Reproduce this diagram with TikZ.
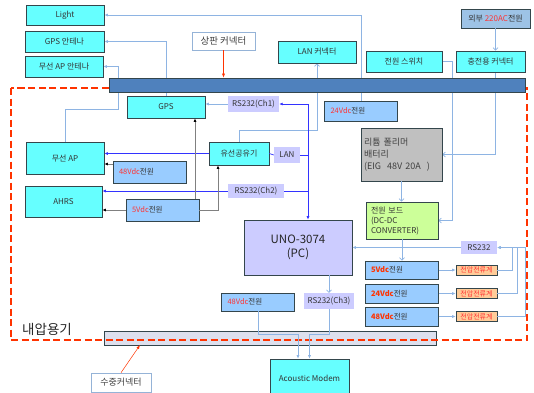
\documentclass[tikz,border=0pt]{standalone}
\usepackage{fontspec}
\setmainfont{Noto Sans CJK KR}
\usetikzlibrary{arrows.meta, calc, backgrounds}
\definecolor{boxedge}{HTML}{34464C}
\definecolor{cyanbox}{HTML}{66FFFF}
\definecolor{vblue}{HTML}{99CCFF}
\definecolor{lav}{HTML}{CCCCFF}
\definecolor{barblue}{HTML}{4F81BD}
\definecolor{botfill}{HTML}{DDE0EE}
\definecolor{vesselred}{HTML}{FF3300}
\definecolor{vred}{HTML}{FF3333}
\definecolor{meterfill}{HTML}{FFCC99}
\definecolor{batgray}{HTML}{C0C0C0}
\definecolor{boardgreen}{HTML}{CCFF99}
\definecolor{extblue}{HTML}{9DC3E6}
\definecolor{lbledge}{HTML}{95B3D7}
\definecolor{plinec}{HTML}{8EB4E3}
\definecolor{blinec}{HTML}{3333FF}

\begin{document}
\begin{tikzpicture}[
  x=1pt, y=-1pt,
  font=\fontsize{8}{9.5}\selectfont,
  box/.style={rectangle, draw=boxedge, line width=0.6pt, inner sep=2pt,
              align=center, text=black!80},
  cbox/.style={box, fill=cyanbox},
  vbox/.style={box, fill=vblue, align=left, inner xsep=6pt, text width=61pt,
               minimum height=20pt, font=\fontsize{7.5}{9}\selectfont},
  tag/.style={rectangle, fill=lav, inner sep=1pt, align=center, text=black!80},
  meter/.style={box, fill=meterfill, text=vred, inner sep=0pt, minimum width=41pt,
                minimum height=10pt, font=\fontsize{7}{8}\selectfont},
  lblbox/.style={rectangle, draw=lbledge, fill=white, line width=0.6pt,
                 text=black!75, font=\fontsize{9.5}{11}\selectfont},
  pline/.style={draw=plinec, line width=0.7pt},
  bline/.style={draw=blinec, line width=0.7pt},
  gline/.style={draw=black!50, line width=0.9pt},
  redarrow/.style={draw=vesselred, line width=0.5pt, -{Latex[length=4pt,width=3pt]}},
  tri/.style={-{Latex[length=3.5pt,width=3pt]}},
  tritri/.style={{Latex[length=3.5pt,width=3pt]}-{Latex[length=3.5pt,width=3pt]}},
  ktri/.style={-{Latex[length=3.5pt,width=3pt,color=black]}},
  vtip/.style={-{Straight Barb[length=2.5pt,width=5pt]}}
]
\useasboundingbox (0,0) rectangle (534,392);

\node[box, fill=botfill, minimum width=332pt, minimum height=14pt] (botbar) at (270,338) {};
\draw[vesselred, line width=2pt, dash pattern=on 7pt off 3.5pt] (11,88) rectangle (527,340);
\node[box, fill=barblue, minimum width=416pt, minimum height=14pt] (topbar) at (317,85) {};
\node[font=\fontsize{13.5}{15}\selectfont, text=black!85] (vessellbl) at (47,329) {내압용기};

\node[cbox, minimum width=78pt, minimum height=20pt] (light) at (65,15) {Light};
\node[cbox, minimum width=79pt, minimum height=21pt] (gpsant) at (64.5,41.5) {GPS 안테나};
\node[cbox, minimum width=78pt, minimum height=21pt] (apant) at (64,66.5) {무선 AP 안테나};
\node[lblbox, minimum width=63pt, minimum height=18pt] (toplbl) at (223.5,41) {상판 커넥터};
\node[cbox, minimum width=78pt, minimum height=22pt] (lancon) at (317,52) {LAN 커넥터};
\node[box, fill=extblue, minimum width=69pt, minimum height=19pt] (ext) at (495.5,18.5)
  {외부 \textcolor{vred}{220AC}전원};
\node[cbox, minimum width=76pt, minimum height=21pt] (pwrsw) at (404,61.5) {전원 스위치};
\node[cbox, minimum width=69pt, minimum height=21pt] (chgcon) at (490.5,61.5) {충전용 커넥터};

\node[cbox, minimum width=78pt, minimum height=22pt] (gps) at (166,107) {GPS};
\node[tag, minimum width=51pt, minimum height=16pt] (ch1) at (253.5,104) {RS232(Ch1)};
\node[vbox] (v24top) at (361,111) {\textcolor{vred}{24Vdc}전원};
\node[box, fill=batgray, minimum width=81pt, minimum height=53pt, align=left,
      text width=75pt, inner xsep=3pt, text=black!75,
      font=\fontsize{9}{12}\selectfont] (battery) at (401.5,154.5)
  {리튬 폴리머\\배터리\\\mbox{(EIG~ 48V 20A~ )}};

\node[cbox, minimum width=78pt, minimum height=32pt] (ap) at (65,158) {무선 AP};
\node[cbox, minimum width=60pt, minimum height=23pt] (router) at (239,153.5) {유선공유기};
\node[tag, minimum width=26pt, minimum height=16pt] (lan) at (287,155) {LAN};
\node[vbox, minimum height=22pt] (v48ap) at (149.5,172) {\textcolor{vred}{48Vdc}전원};
\node[cbox, minimum width=77pt, minimum height=31pt] (ahrs) at (63.5,201.5) {AHRS};
\node[tag, minimum width=56pt, minimum height=14pt] (ch2) at (256,191) {RS232(Ch2)};
\node[vbox, minimum height=22pt] (v5ahrs) at (162.5,210) {\textcolor{vred}{5Vdc}전원};

\node[box, fill=boardgreen, minimum width=72pt, minimum height=37pt, align=left,
      text width=62pt, inner xsep=5pt, font=\fontsize{8}{10}\selectfont] (board) at (402,220.5)
  {전원 보드\\(DC-DC\\CONVERTER)};
\node[box, fill=lav, minimum width=108pt, minimum height=55pt,
      font=\fontsize{11.5}{14}\selectfont, text=black!85] (uno) at (298,247.5) {UNO-3074\\(PC)};
\node[tag, minimum width=36pt, minimum height=13pt] (rs232) at (479,247.5) {RS232};

\node[vbox, line width=1pt, minimum height=18pt] (v5) at (401.5,270)
  {\textbf{\textcolor{vesselred}{5Vdc}}전원};
\node[vbox, line width=1pt, minimum height=19pt] (v24) at (401.5,293.5)
  {\textbf{\textcolor{vesselred}{24Vdc}}전원};
\node[vbox, line width=1pt, minimum height=19pt] (v48) at (401.5,316.5)
  {\textbf{\textcolor{vesselred}{48Vdc}}전원};
\node[meter] (meter1) at (476.5,270) {전압전류계};
\node[meter] (meter2) at (476.5,293.5) {전압전류계};
\node[meter] (meter3) at (476.5,316.5) {전압전류계};

\node[vbox, minimum height=18pt] (v48modem) at (258,302) {\textcolor{vred}{48Vdc}전원};
\node[tag, minimum width=50pt, minimum height=16pt] (ch3) at (329,301) {RS232(Ch3)};
\node[cbox, minimum width=79pt, minimum height=38pt] (modem) at (309.5,378) {Acoustic Modem};
\node[lblbox, font=\fontsize{9}{11}\selectfont, minimum width=60pt, minimum height=19pt]
  (waterlbl) at (121,382.5) {수중커넥터};

\coordinate (bus) at ($(uno.north)+(10,0)$);
\coordinate (apin) at ($(v48ap.west)+(0,-8)$);
\coordinate (routerin) at ($(router.south)+(-21,0)$);
\coordinate (gpsin) at ($(gps.south)+(29,0)$);
\coordinate (waterpt) at (140,345);

\begin{scope}[on background layer]
\draw[pline, tri] (v24top.north) |- (light.east);
\draw[pline, tri] (gps.north) |- (gpsant.east);
\draw[pline, tri] (ap.north) |- ++(53,-32) |- (apant.east);
\draw[pline, vtip] (router.north) -- ++(0,-11) -| (lancon.south);
\draw[pline, vtip] (pwrsw.east) -- ++(10,0) |- (board.east);
\draw[pline, vtip] (ext.south |- chgcon.south) |- (battery.east);
\end{scope}

\draw[redarrow] (toplbl.south) -- (toplbl.south |- topbar.north);
\draw[redarrow] (waterlbl.north) -- (waterpt);
\draw[pline, vtip] (ext.south) -- (ext.south |- chgcon.north);
\draw[pline, vtip] (battery.south) -- (battery.south |- board.north);
\draw[pline, vtip] (board.south) -- (board.south |- v5.north);

\draw[pline, tri] (ch1.west) -- (ch1.west -| gps.east);
\draw[bline, tritri] (ch1.east) -| (bus);
\draw[bline] (lan.east) -- (lan.east -| bus);
\draw[bline] (ch2.east) -- (ch2.east -| bus);
\draw[bline] (router.east) -- (lan.west);
\draw[bline, tri] (router.west) -- (router.west -| ap.east);
\draw[bline, tri] (ch2.west) -- (ch2.west -| ahrs.east);

\draw[gline, ktri] (apin) -- (apin -| ap.east);
\draw[gline, ktri] (v5ahrs.west) -- (v5ahrs.west -| ahrs.east);
\draw[gline, ktri] (v5ahrs.east) -| (routerin);
\draw[gline, ktri] (gpsin |- v5ahrs.north) -- (gpsin);

\draw[pline, tri] (v5.east) -- (meter1.west);
\draw[pline, tri] (v24.east) -- (meter2.west);
\draw[pline, tri] (v48.east) -- (meter3.west);
\draw[pline, tri] (meter1.east) -- ++(15,0) |- (rs232.east);
\draw[pline, tri] (meter2.east) -- ++(20,0) |- (rs232.east);
\draw[pline, tri] (meter3.east) -- ++(28,0) |- (rs232.east);
\draw[pline, tri] (rs232.west) -- (uno.east);

\draw[pline, vtip] (uno.south -| ch3.north) -- (ch3.north);
\draw[pline, tri] (v48modem.south) -- ++(0,23) -| ($(modem.north)+(-11.5,0)$);
\draw[pline, tri] (ch3.south) -- ++(0,25) -| (modem.north);

\end{tikzpicture}
\end{document}
